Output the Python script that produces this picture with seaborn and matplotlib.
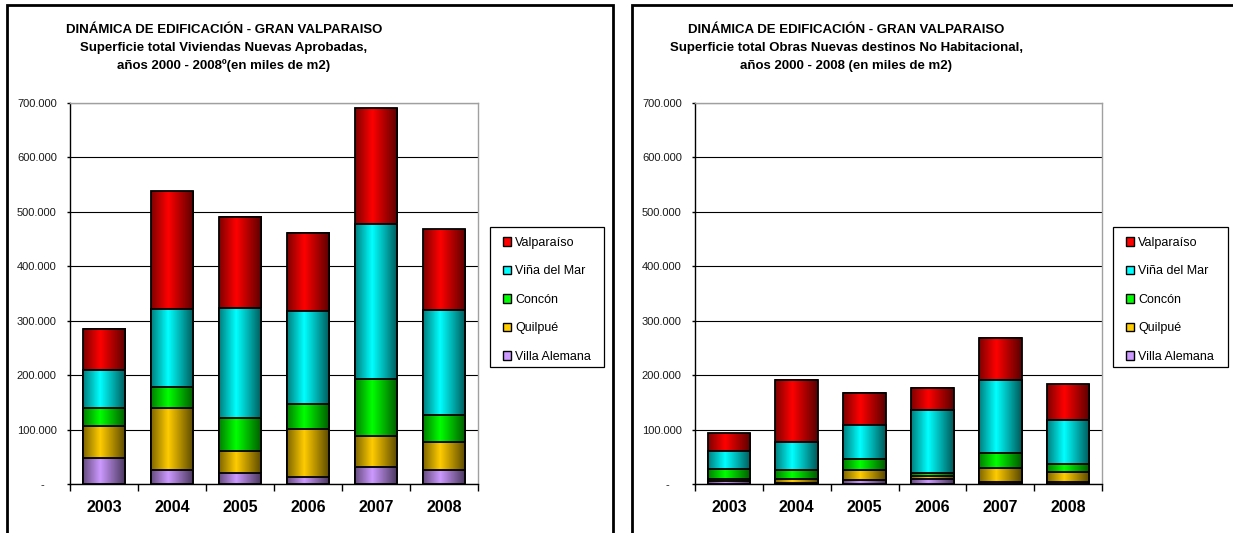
import numpy as np
import pandas as pd
import seaborn as sns
import matplotlib.pyplot as plt
from matplotlib.patches import Rectangle, Patch
from matplotlib.ticker import FixedLocator, FuncFormatter
from matplotlib.colors import to_rgb

# datos (m2), por comuna y año
anios = ['2003', '2004', '2005', '2006', '2007', '2008']
comunas = ['Villa Alemana', 'Quilpué', 'Concón', 'Viña del Mar', 'Valparaíso']
colores = ['#CC99FF', '#FFCC00', '#00FF00', '#00FFFF', '#FF0000']

# Viviendas nuevas aprobadas
viv_villa_alemana = [47200, 25800, 19600, 12300, 31900, 25200]
viv_quilpue = [60200, 113500, 40500, 88900, 56400, 51500]
viv_concon = [32500, 39800, 61400, 45400, 104300, 50300]
viv_vina = [69900, 142400, 201800, 170600, 285400, 192000]
viv_valparaiso = [75500, 216500, 167500, 144800, 212600, 149000]

# Obras nuevas no habitacional
nh_villa_alemana = [5200, 2000, 6500, 9500, 3300, 2800]
nh_quilpue = [3600, 7900, 19000, 5800, 25600, 18800]
nh_concon = [18200, 15600, 21200, 4500, 28600, 14700]
nh_vina = [33400, 51800, 61800, 116400, 133600, 82200]
nh_valparaiso = [33200, 113800, 59500, 41000, 77700, 64400]

titulo_linea1 = 'DINÁMICA DE EDIFICACIÓN - GRAN VALPARAISO'
titulo_viv = 'Superficie total Viviendas Nuevas Aprobadas,'
sub_viv = 'años 2000 - 2008º(en miles de m2)'
titulo_nh = 'Superficie total Obras Nuevas destinos No Habitacional,'
sub_nh = 'años 2000 - 2008 (en miles de m2)'

sns.set_theme(style='white')
plt.rcParams['font.family'] = ['Liberation Sans', 'DejaVu Sans']

W, H = 1233, 533
fig = plt.figure(figsize=(W / 100, H / 100), dpi=100)
fig.patch.set_facecolor('white')


def degradado(color):
    rgb = np.array(to_rgb(color))
    t = np.linspace(0, 1, 64)
    brillo = np.interp(t, [0, 0.4, 1], [0.5, 1.0, 0.35])
    return (brillo[:, None] * rgb[None, :])[None, :, :]


def fmt_miles(v, pos):
    if abs(v) < 1:
        return '-    '
    return f'{int(round(v)):,}'.replace(',', '.')


def dibujar(ax, series):
    acum = np.zeros(len(anios))
    alturas = []
    for s in series:
        acum = acum + np.array(s, dtype=float)
        alturas.append(acum.copy())
    # del total hacia abajo: cada segmento inferior tapa al anterior
    for i in reversed(range(len(series))):
        df = pd.DataFrame({'anio': anios, 'valor': alturas[i]})
        n0 = len(ax.patches)
        z = 3 + (len(series) - i) * 0.1
        sns.barplot(data=df, x='anio', y='valor', color=colores[i], saturation=1,
                    width=0.63, edgecolor='black', linewidth=1.3, ax=ax, zorder=z)
        grad = degradado(colores[i])
        for p in ax.patches[n0:]:
            x, y, w, h = p.get_x(), p.get_y(), p.get_width(), p.get_height()
            ax.imshow(grad, extent=[x, x + w, y, y + h], aspect='auto',
                      zorder=z - 0.01, interpolation='bilinear')
            p.set_facecolor('none')

    ax.set_xlim(-0.5, len(anios) - 0.5)
    ax.set_ylim(0, 700000)
    ax.set_yticks(np.arange(0, 700001, 100000))
    ax.yaxis.set_major_formatter(FuncFormatter(fmt_miles))
    ax.set_xlabel('')
    ax.set_ylabel('')
    ax.grid(axis='y', color='black', linewidth=0.8, zorder=0)
    ax.set_axisbelow(True)
    for lado in ['top', 'right']:
        ax.spines[lado].set_color('#A0A0A0')
        ax.spines[lado].set_linewidth(1)
    for lado in ['left', 'bottom']:
        ax.spines[lado].set_color('black')
        ax.spines[lado].set_linewidth(1)
    ax.tick_params(axis='y', labelsize=8, length=2.5, width=1, color='black',
                   direction='out', left=True, labelcolor='#1a1a1a', pad=7)
    ax.xaxis.set_minor_locator(FixedLocator(np.arange(-0.5, len(anios), 1)))
    ax.tick_params(axis='x', which='major', length=0, pad=11.5, labelsize=11.5,
                   labelcolor='black')
    ax.tick_params(axis='x', which='minor', length=5, width=1, color='black',
                   direction='out', bottom=True)
    for lab in ax.get_xticklabels():
        lab.set_fontweight('bold')


ax1 = fig.add_axes([70 / W, 1 - 484 / H, 408 / W, 381 / H])
ax2 = fig.add_axes([695 / W, 1 - 484 / H, 407 / W, 381 / H])

dibujar(ax1, [viv_villa_alemana, viv_quilpue, viv_concon, viv_vina, viv_valparaiso])
dibujar(ax2, [nh_villa_alemana, nh_quilpue, nh_concon, nh_vina, nh_valparaiso])

manejadores = [Patch(facecolor=colores[i], edgecolor='black', linewidth=1,
                     label=comunas[i]) for i in reversed(range(len(comunas)))]
for ax, (bx0, bx1) in [(ax1, (490, 604)), (ax2, (1113, 1228))]:
    leg = ax.legend(handles=manejadores, loc='upper left',
                    bbox_to_anchor=((bx0 + 13) / W, 1 - 237 / H),
                    bbox_transform=fig.transFigure,
                    fontsize=9, frameon=False,
                    handlelength=0.64, handleheight=0.64, handletextpad=0.32,
                    labelspacing=1.32, borderpad=0, borderaxespad=0)
    leg.set_zorder(10)
    for t in leg.get_texts():
        t.set_color('black')
    fig.add_artist(Rectangle((bx0 / W, 1 - 367 / H), (bx1 - bx0) / W, 140 / H,
                             transform=fig.transFigure, fill=False,
                             edgecolor='black', linewidth=0.9))

# marcos de cada gráfico
for x0, x1 in [(7, 613), (632, 1240)]:
    fig.add_artist(Rectangle((x0 / W, -0.05), (x1 - x0) / W, 1.05 - 5 / H,
                             transform=fig.transFigure, fill=False,
                             edgecolor='black', linewidth=2))

for cx, l2, l3 in [(224, titulo_viv, sub_viv), (846, titulo_nh, sub_nh)]:
    for y, txt in [(30, titulo_linea1), (48, l2), (66, l3)]:
        fig.text(cx / W, 1 - y / H, txt, ha='center', va='center',
                 fontsize=9.5, fontweight='bold', color='black')

fig.savefig('out.png', dpi=100)
